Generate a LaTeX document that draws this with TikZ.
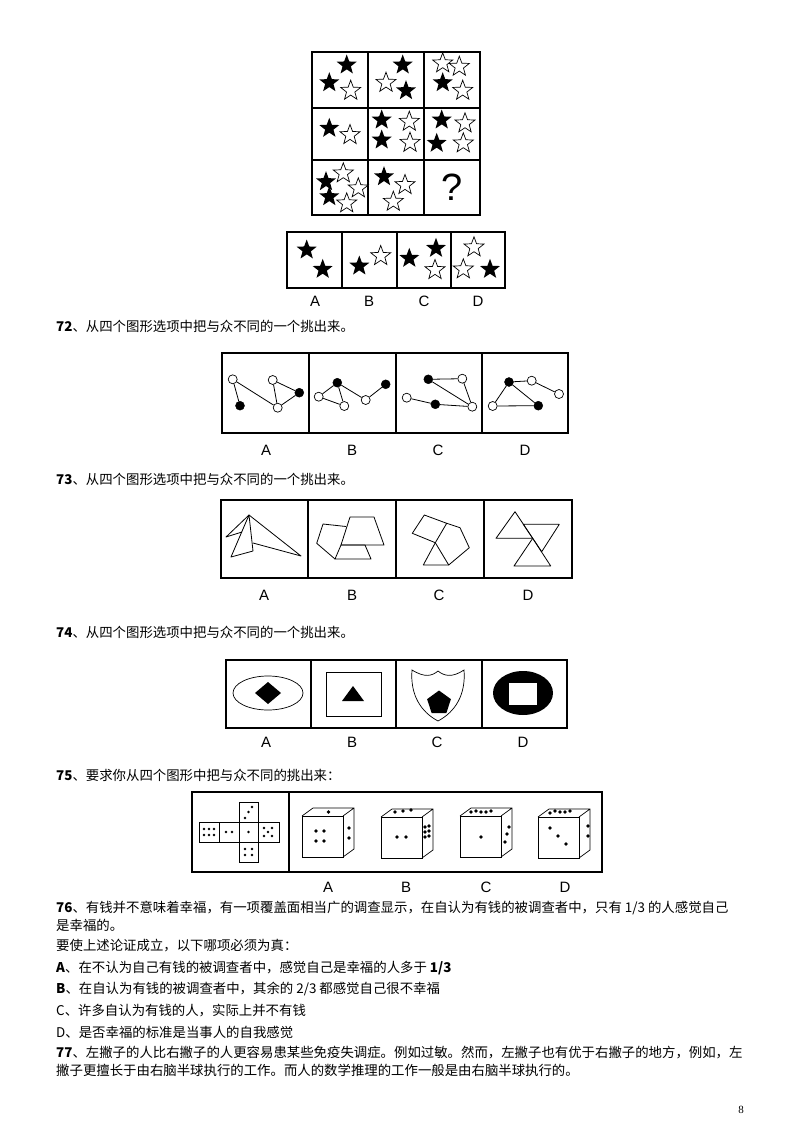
\documentclass[tikz,border=0pt]{standalone}
\usepackage{fontspec}
\setmainfont{Liberation Serif}
\newfontfamily\cjk{Noto Sans CJK SC}
\newfontfamily\lab{Liberation Sans}
\usetikzlibrary{shapes.geometric}
\begin{document}
\begin{tikzpicture}[x=1pt,y=-1pt,
 bs/.style={star,star points=5,star point ratio=2.4,minimum size=21pt,inner sep=0,fill=black},
 ws/.style={star,star points=5,star point ratio=2.4,minimum size=21pt,inner sep=0,draw,line width=0.7pt,fill=white},
 frm/.style={draw,line width=1.1pt},
 lb/.style={font=\lab\fontsize{15}{15}\selectfont},
 tx/.style={anchor=west,inner sep=0,font=\cjk\fontsize{13.4}{14}\selectfont},
 oc/.style={circle,draw,fill=white,minimum size=9pt,inner sep=0,line width=0.7pt},
 fc/.style={circle,draw,fill=black,minimum size=9pt,inner sep=0},
 dot/.style={fill=black}]
\useasboundingbox[fill=white] (0,0) rectangle (800,1132);
% ---- top grid
\draw[frm] (312,52) rectangle (480,215);
\foreach \x in {368,424} \draw[frm] (\x,52)--(\x,215);
\foreach \y in {108,160} \draw[frm] (312,\y)--(480,\y);
\foreach[count=\i] \x/\y/\t in {
 346.7/65/bs,329.3/82.7/bs,350.7/90.7/ws,
 402.7/65/bs,386/82.7/ws,406/90.7/bs,
 442.7/63.3/ws,459.3/66.7/ws,442.7/82.7/bs,462.7/90.7/ws,
 329.3/128.3/bs,350/135/ws,
 381.7/120/bs,409.3/121.7/ws,381.7/140/bs,410/142.7/ws,
 441.7/120/bs,465/123.3/ws,436.7/143.3/bs,463.3/143.3/ws,
 326/181.7/bs,343.3/173.3/ws,358.3/188.3/ws,329.3/196.7/bs,346.7/203.3/ws,
 384/176.7/bs,405/185/ws,393.3/201.7/ws}
 \node[\t] (s\i) at (\x,\y) {};
\node[font=\lab\fontsize{38}{38}\selectfont] (q) at (451.7,187) {?};
% options
\draw[frm] (287,232) rectangle (505,288);
\foreach \x in {342,397,451} \draw[frm] (\x,232)--(\x,288);
\foreach[count=\i] \x/\y/\t in {
 306.7/250/bs,322.7/269.3/bs,
 359.3/266/bs,380.7/256/ws,
 409.3/258.3/bs,436/248.3/bs,435/270/ws,
 474/247.3/ws,463.3/269.3/ws,490/269.3/bs}
 \node[\t] (o\i) at (\x,\y) {};
\foreach \x/\l in {315/A,369/B,424/C,478/D} \node[lb] (l1\l) at (\x,301) {\l};
% ---- 72
\node[tx] (t72) at (56,326) {\textbf{72}、从四个图形选项中把与众不同的一个挑出来。};
\draw[frm] (222,353) rectangle (568,433);
\foreach \x in {309,396,482} \draw[frm] (\x,353)--(\x,433);
\foreach \n/\x/\y/\t in {a1/232.7/379.3/oc,a2/240/405.7/fc,a3/272.7/380/oc,a4/299.3/392.7/fc,a5/277.7/407.7/oc,
 b1/337.3/382.7/fc,b2/318.7/396.7/oc,b3/344.3/406/oc,b4/365.7/400/oc,b5/385.7/384.3/fc,
 c1/428.3/379.3/fc,c2/462.3/378.7/oc,c3/406.7/397.7/oc,c4/435.3/404.3/fc,c5/472.3/406.7/oc,
 d1/509/382/fc,d2/531.7/380.7/oc,d3/559/394/oc,d4/492.7/406/oc,d5/538.3/405.7/fc}
 \node[\t] (\n) at (\x,\y) {};
\begin{scope}[line width=0.8pt]
\foreach \p/\q in {a1/a2,a1/a5,a3/a5,a3/a4,a4/a5,b1/b2,b2/b3,b1/b3,b1/b4,b4/b5,c1/c2,c2/c5,c1/c5,c3/c4,c4/c5,d1/d2,d2/d3,d1/d4,d4/d5,d1/d5}
 \draw (\p)--(\q);
\end{scope}
\foreach \x/\l in {266/A,352/B,438/C,525/D} \node[lb] (l2\l) at (\x,450) {\l};
% ---- 73
\node[tx] (t73) at (56,479) {\textbf{73}、从四个图形选项中把与众不同的一个挑出来。};
\draw[frm] (221,500) rectangle (572,578);
\foreach \x in {308,396,484} \draw[frm] (\x,500)--(\x,578);
\begin{scope}[line width=0.8pt,line join=round]
\draw (249,515)--(226,537)--(242,532);
\draw (249,515)--(231,557)--(253,551)--cycle;
\draw (249,515)--(301,556)--(253,543);
\draw (350,517)--(374,517)--(384,545)--(341,545)--cycle;
\draw (341,545)--(365,545)--(371,559)--(335,559)--cycle;
\draw (346,526.5)--(323,524)--(316.7,543.3)--(335,559);
\draw (424.3,515)--(446.7,523.3)--(435.3,542.7)--(412.3,533.3)--cycle;
\draw (446.7,523.3)--(460,527.7)--(469.3,547.7)--(448.7,565)--(435.3,542.7);
\draw (435.3,542.7)--(423.3,565)--(448.7,565);
\draw (515,511.7)--(496,538.3)--(532.7,538.3)--cycle;
\draw (523.3,524.3)--(559.3,524.3)--(541.7,551.7)--cycle;
\draw (532.7,538.3)--(514,566)--(550.7,566)--cycle;
\end{scope}
\foreach \x/\l in {264/A,352/B,439/C,528/D} \node[lb] (l3\l) at (\x,595) {\l};
% ---- 74
\node[tx] (t74) at (56,632) {\textbf{74}、从四个图形选项中把与众不同的一个挑出来。};
\draw[frm] (226,660) rectangle (567,728);
\foreach \x in {311,396,482} \draw[frm] (\x,660)--(\x,728);
\draw[line width=0.7pt] (268,693) ellipse [x radius=35,y radius=17];
\fill (268,682)--(281,693)--(268,704)--(255,693)--cycle;
\draw[line width=0.7pt] (326,672) rectangle (381,716);
\fill (342,701)--(364,701)--(353,686)--cycle;
\draw[line width=0.7pt] (412,670) .. controls (425,678) and (432,676) .. (438,671) .. controls (444,676) and (452,678) .. (464,670) .. controls (466,695) and (455,712) .. (438,721) .. controls (421,712) and (410,695) .. (412,670) -- cycle;
\node[regular polygon,regular polygon sides=5,fill=black,minimum size=25pt,inner sep=0] (pent) at (439,703) {};
\fill (523,693) ellipse [x radius=30,y radius=22];
\fill[white] (509,683) rectangle (537,705);
\foreach \x/\l in {266/A,352/B,437/C,523/D} \node[lb] (l4\l) at (\x,742) {\l};
% ---- 75
\node[tx] (t75) at (56,775) {\textbf{75}、要求你从四个图形中把与众不同的挑出来：};
\draw[frm] (192,792) rectangle (602,872);
\draw[frm] (289,792)--(289,872);
\begin{scope}[line width=0.6pt]
\draw (199,822) rectangle (279,842);
\foreach \x in {219,239,258} \draw (\x,822)--(\x,842);
\draw (239,802) rectangle (258,862);
\draw (239,822)--(258,822) (239,842)--(258,842);
\end{scope}
\foreach \x/\y in {204/829,209/829,214/829,204/835,209/835,214/835,
 226/832,232/832, 248.5/832,
 264/828,272/828,268/832,264/836,272/836,
 245/818,248.5/812,252/807,
 245/849,252/849,245/855,252/855}
 \fill (\x,\y) circle (1.4);
\foreach \x/\y in {302/816,381/817,460/816,538/817}{
 \draw[line width=0.7pt] (\x,\y) rectangle ++(41,41);
 \draw[line width=0.7pt] (\x,\y)--++(11,-8)--++(41,0)--++(0,41)--++(-11,8) (\x+41,\y)--++(11,-8);
}
\foreach \x/\y in {
 328.5/812,
 316/831,324/831,316/841,324/841, 349/828,349/838,
 395/812,403/811,411/810,
 397/837,406/837, 425/827,429/826,425/832,429/831,425/837,429/836,
 471/812,476/811,481/812,486/812,491/811,
 481/837, 509/827,507/834,505/842,
 550/813,555/811,560/812,565/812,570/811,
 550/828,558/836,566/844, 588/826,588/836}
 \fill (\x,\y) circle (1.8);
\foreach \x/\l in {328/A,406/B,486/C,565/D} \node[lb] (l5\l) at (\x,887) {\l};
% ---- text
\node[tx] (t76) at (56,908) {\textbf{76}、有钱并不意味着幸福，有一项覆盖面相当广的调查显示，在自认为有钱的被调查者中，只有 1/3 的人感觉自己};
\node[tx] (t76b) at (56,925) {是幸福的。};
\node[tx] (q1) at (56,946) {要使上述论证成立，以下哪项必须为真：};
\node[tx] (qa) at (56,968) {\textbf{A}、在不认为自己有钱的被调查者中，感觉自己是幸福的人多于 \textbf{1/3}};
\node[tx] (qb) at (56,989) {\textbf{B}、在自认为有钱的被调查者中，其余的 2/3 都感觉自己很不幸福};
\node[tx] (qc) at (56,1011) {C、许多自认为有钱的人，实际上并不有钱};
\node[tx] (qd) at (56,1032) {D、是否幸福的标准是当事人的自我感觉};
\node[tx] (t77) at (56,1053) {\textbf{77}、左撇子的人比右撇子的人更容易患某些免疫失调症。例如过敏。然而，左撇子也有优于右撇子的地方，例如，左};
\node[tx] (t77b) at (56,1070) {撇子更擅长于由右脑半球执行的工作。而人的数学推理的工作一般是由右脑半球执行的。};
\node[font=\fontsize{11}{11}\selectfont] (pg) at (741,1110) {8};
\end{tikzpicture}
\end{document}
